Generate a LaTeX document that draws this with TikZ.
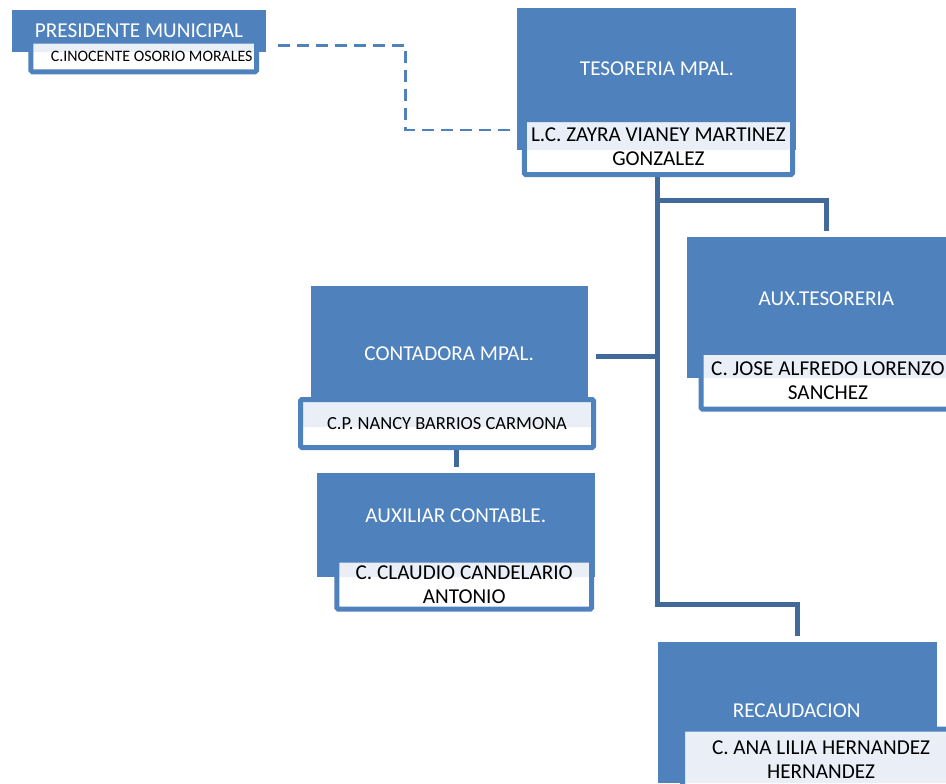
\documentclass[tikz,border=0pt]{standalone}
\usepackage{fontspec}
\setmainfont{Carlito}
\definecolor{azul}{HTML}{4F81BD}
\definecolor{azulosc}{HTML}{41699A}
\definecolor{tinte}{HTML}{E9EEF7}
\begin{document}
\begin{tikzpicture}[x=1pt, y=-1pt,
    cargo/.style = {fill=azul, minimum width=279pt, inner sep=0pt},
    titulo/.style = {text=white, inner sep=0pt, font=\fontsize{21.2}{25}\selectfont},
    persona/.style = {draw=azul, fill=white, line width=5pt, rounded corners=1.5pt,
        inner sep=0pt, align=center, font=\fontsize{21.2}{24}\selectfont,
        path picture={\fill[tinte] (path picture bounding box.north west)
            rectangle (path picture bounding box.east |- #1.south);}},
    linea/.style = {draw=azulosc, line width=5pt, shorten >=6pt},
    enlace/.style = {draw=azul, line width=2.5pt, dash pattern=on 12pt off 7pt}]
    \useasboundingbox (0,0) rectangle (946,784);

    % presidente
    \node[cargo, minimum width=254pt, minimum height=42pt] (pres) at (139,31) {};
    \node[titulo] (pres-t) at (139,31) {PRESIDENTE MUNICIPAL};
    \node[persona=pres, minimum width=225.7pt, minimum height=30.6pt, text depth=0pt,
        font=\fontsize{15.9}{18}\selectfont] (pres-n) at (143.7,56.5)
        {\hspace*{16pt}C.INOCENTE OSORIO MORALES};

    % tesoreria
    \node[cargo, minimum height=142pt] (tes) at (656.5,79) {};
    \node[titulo] (tes-t) at (657,69) {TESORERIA MPAL.};
    \node[persona=tes, minimum width=268.3pt, minimum height=55pt] (tes-n) at (658.4,147)
        {L.C. ZAYRA VIANEY MARTINEZ\\GONZALEZ};

    % contadora
    \node[cargo, minimum width=277pt, minimum height=141pt] (cont) at (449.5,356.5) {};
    \node[titulo] (cont-t) at (449.2,353.5) {CONTADORA MPAL.};
    \node[persona=cont, minimum width=293pt, minimum height=48pt,
        font=\fontsize{18.5}{22}\selectfont] (cont-n) at (447,423.5) {C.P. NANCY BARRIOS CARMONA};

    % auxiliar contable
    \node[cargo, minimum width=278pt, minimum height=104pt] (auxc) at (456,525) {};
    \node[titulo] (auxc-t) at (455.8,515.5) {AUXILIAR CONTABLE.};
    \node[persona=auxc, minimum width=254.7pt, minimum height=49.2pt] (auxc-n) at (464.2,584.6)
        {C. CLAUDIO CANDELARIO\\ANTONIO};

    % aux. tesoreria
    \node[cargo, minimum height=141pt] (auxt) at (826.5,307.5) {};
    \node[titulo] (auxt-t) at (826.5,298.5) {AUX.TESORERIA};
    \node[persona=auxt, minimum width=254pt, minimum height=56.7pt] (auxt-n) at (828,380.8)
        {C. JOSE ALFREDO LORENZO\\SANCHEZ};

    % recaudacion
    \node[cargo, minimum height=141pt] (rec) at (797.5,712.5) {};
    \node[titulo] (rec-t) at (796.7,710.5) {RECAUDACION};
    \node[persona=rec, minimum width=277pt, minimum height=60pt] (rec-n) at (821,759.2)
        {C. ANA LILIA HERNANDEZ\\HERNANDEZ};

    % lineas
    \coordinate (d0) at (278,45.5);
    \coordinate (d1) at (405.5,130);
    \coordinate (t1) at (657.5,200.5);
    \coordinate (t2) at (657.5,356);
    \coordinate (t3) at (657.5,604);
    \draw[enlace] (d0) -| (d1) -- (d1 -| tes-n.west);
    \draw[linea] (tes-n.south -| t1) -- (t3) -| (rec.north);
    \draw[linea] (t1) -| (auxt.north);
    \draw[linea, shorten >=0pt] (t2) -- (t2 -| cont-n.east);
    \draw[linea] (cont-n.south -| auxc.north) -- (auxc.north);
\end{tikzpicture}
\end{document}
